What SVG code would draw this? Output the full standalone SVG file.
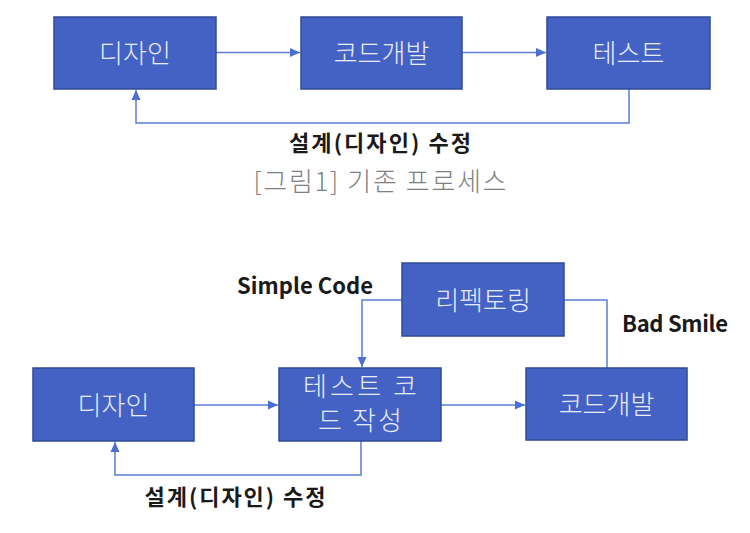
<svg xmlns="http://www.w3.org/2000/svg" width="750" height="533" viewBox="0 0 750 533">
<style>
.box{fill:#4462C4;stroke:#2F4B99;stroke-width:1.5}
.bt{font-family:"Noto Sans CJK KR","Noto Sans",sans-serif;font-size:26px;font-weight:300;fill:#E8ECF8;text-anchor:middle}
.conn{fill:none;stroke:#5B7FD6;stroke-width:1.5}
.lbl{font-family:"Noto Sans CJK KR","Noto Sans",sans-serif;font-size:22px;font-weight:700;fill:#1a1a1a;text-anchor:middle}
.cap{font-family:"Noto Sans CJK KR","Noto Sans",sans-serif;font-size:26px;font-weight:300;fill:#808080;text-anchor:middle}
</style>
<defs>
<marker id="ah" markerWidth="10" markerHeight="10" refX="10" refY="5" orient="auto" markerUnits="userSpaceOnUse">
<path d="M0,0.5 L10,5 L0,9.5 Z" fill="#4A6FD0"/>
</marker>
</defs>
<rect width="750" height="533" fill="#ffffff"/>
<g id="connectors">
<path class="conn" d="M216,52.5 H300" marker-end="url(#ah)"/>
<path class="conn" d="M462,52.5 H546" marker-end="url(#ah)"/>
<path class="conn" d="M629,89 V123 H136 V90" marker-end="url(#ah)"/>
<path class="conn" d="M194,405 H278" marker-end="url(#ah)"/>
<path class="conn" d="M441,405 H525" marker-end="url(#ah)"/>
<path class="conn" d="M402,300 H362 V367" marker-end="url(#ah)"/>
<path class="conn" d="M607,368 V300 H564"/>
<path class="conn" d="M361,441 V475 H115 V442" marker-end="url(#ah)"/>
</g>
<g id="top-design"><rect class="box" x="54" y="17" width="162" height="72"/><text class="bt" x="135" y="63">디자인</text></g>
<g id="top-code"><rect class="box" x="301" y="17" width="161" height="72"/><text class="bt" x="381.5" y="63">코드개발</text></g>
<g id="top-test"><rect class="box" x="547" y="17" width="163" height="72"/><text class="bt" x="628.5" y="63">테스트</text></g>
<g id="top-label"><text class="lbl" x="380" y="151" textLength="182" lengthAdjust="spacing">설계(디자인) 수정</text></g>
<g id="caption"><text class="cap" x="380" y="191" textLength="253" lengthAdjust="spacing">[그림1] 기존 프로세스</text></g>
<g id="refactor"><rect class="box" x="402" y="263" width="162" height="73"/><text class="bt" x="483" y="310">리펙토링</text></g>
<g id="bot-design"><rect class="box" x="33" y="368" width="161" height="73"/><text class="bt" x="113.5" y="415">디자인</text></g>
<g id="bot-test"><rect class="box" x="279" y="368" width="162" height="73"/><text class="bt" x="360" y="396" font-size="24" textLength="114" lengthAdjust="spacing">테스트 코</text><text class="bt" x="360" y="430" font-size="24" textLength="84" lengthAdjust="spacing">드 작성</text></g>
<g id="bot-code"><rect class="box" x="526" y="368" width="161" height="72"/><text class="bt" x="606.5" y="414">코드개발</text></g>
<g id="label-simple"><text class="lbl" x="305" y="294" font-size="20" textLength="136" lengthAdjust="spacing">Simple Code</text></g>
<g id="label-bad"><text class="lbl" x="675" y="332" font-size="20" textLength="106" lengthAdjust="spacing">Bad Smile</text></g>
<g id="bot-label"><text class="lbl" x="235" y="505" textLength="181" lengthAdjust="spacing">설계(디자인) 수정</text></g>
</svg>
